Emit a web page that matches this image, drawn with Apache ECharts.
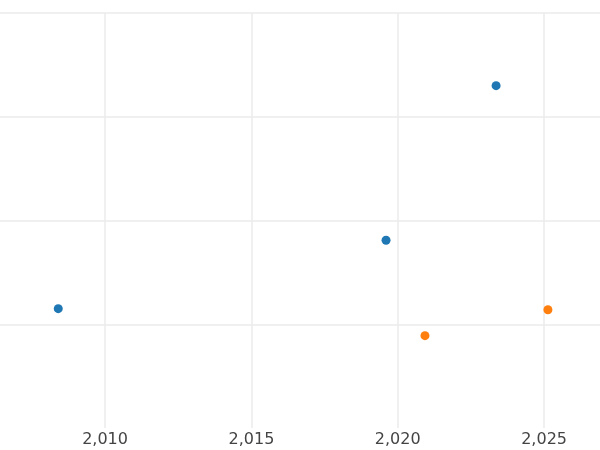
<!DOCTYPE html>
<html><head><meta charset="utf-8">
<script src="https://cdn.jsdelivr.net/npm/echarts@6/dist/echarts.min.js"></script>
<style>body{margin:0}#c{width:600px;height:450px}</style></head>
<body><div id="c"></div>
<script>
const seriesA = [[2008.4,1.15],[2019.6,1.81],[2023.36,3.3]];
const seriesB = [[2020.93,0.89],[2025.13,1.14]];
const xTicks = [2010,2015,2020,2025];
const yTicks = [1,2,3,4];
const chart = echarts.init(document.getElementById('c'));
chart.setOption({
  animation:false,
  grid:{left:0,right:0,top:13,bottom:22},
  xAxis:{type:'value',min:2006.41,max:2026.91,
    axisLine:{show:false},axisTick:{show:false,customValues:xTicks},
    axisLabel:{color:'#444',fontSize:16,fontFamily:'DejaVu Sans',margin:4,customValues:xTicks},
    splitLine:{lineStyle:{color:'#ebebeb',width:1.5}}},
  yAxis:{type:'value',min:0,max:4,
    axisLine:{show:false},axisTick:{show:false,customValues:yTicks},axisLabel:{show:false,customValues:yTicks},
    splitLine:{lineStyle:{color:'#ebebeb',width:1.5}}},
  series:[
    {type:'scatter',data:seriesA,symbolSize:9,itemStyle:{color:'#1f77b4',opacity:1}},
    {type:'scatter',data:seriesB,symbolSize:9,itemStyle:{color:'#ff7f0e',opacity:1}}
  ]
});
</script></body></html>
